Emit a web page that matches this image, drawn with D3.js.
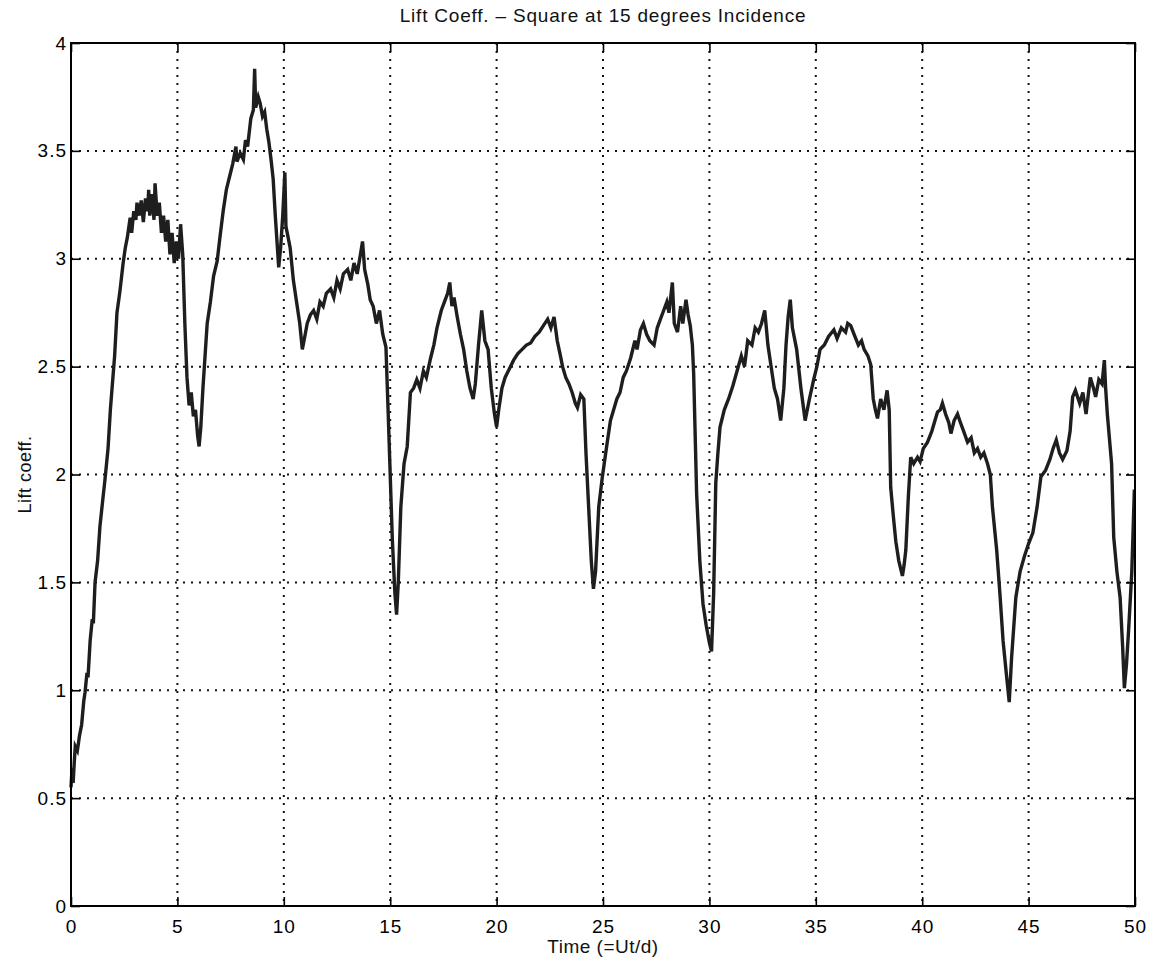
<!DOCTYPE html>
<html>
<head>
<meta charset="utf-8">
<script src="https://cdn.jsdelivr.net/npm/d3@7"></script>
<style>
  body { margin: 0; background: #fff; }
  svg { display: block; font-family: "Liberation Sans", Arial, sans-serif; }
</style>
</head>
<body>
<svg id="chart" width="1159" height="967"></svg>
<script>
// axis ticks
let xTicks = [0, 5, 10, 15, 20, 25, 30, 35, 40, 45, 50];
let yTicks = [0, 0.5, 1, 1.5, 2, 2.5, 3, 3.5, 4];

// time (=Ut/d) samples
let time = [
  0,0.05,0.1,0.15,0.2,0.3,0.4,0.5,0.6,0.66,0.75,0.8,0.9,1.0,1.05,1.13,1.25,1.36,1.49,1.6,
  1.74,1.85,1.93,2.05,2.16,2.3,2.45,2.55,2.65,2.78,2.85,2.95,3.05,3.1,3.2,3.3,3.4,3.5,3.6,3.65,
  3.7,3.8,3.9,3.95,4.05,4.15,4.25,4.35,4.45,4.55,4.65,4.75,4.85,4.95,5.05,5.15,5.25,5.35,5.45,5.55,
  5.65,5.75,5.85,5.95,6.02,6.1,6.2,6.3,6.4,6.55,6.7,6.87,7.0,7.15,7.3,7.45,7.6,7.75,7.8,7.95,
  8.1,8.2,8.3,8.45,8.57,8.63,8.68,8.8,8.89,9.0,9.1,9.2,9.3,9.4,9.5,9.6,9.7,9.76,9.85,9.95,
  10.05,10.1,10.2,10.3,10.45,10.6,10.75,10.87,10.95,11.1,11.25,11.4,11.55,11.7,11.85,12.0,12.2,12.35,12.5,12.65,
  12.8,13.0,13.15,13.3,13.45,13.6,13.7,13.8,13.95,14.06,14.2,14.35,14.5,14.65,14.8,14.9,15.0,15.1,15.22,15.3,
  15.38,15.5,15.65,15.8,15.95,16.1,16.25,16.4,16.56,16.7,16.9,17.05,17.2,17.4,17.55,17.7,17.8,17.9,18.0,18.15,
  18.3,18.45,18.6,18.75,18.9,19.0,19.15,19.3,19.45,19.6,19.75,19.9,20.0,20.1,20.25,20.4,20.55,20.8,21.0,21.2,
  21.4,21.6,21.8,22.0,22.2,22.4,22.55,22.7,22.85,23.0,23.1,23.25,23.4,23.55,23.7,23.8,23.95,24.1,24.2,24.3,
  24.45,24.55,24.65,24.8,24.97,25.1,25.2,25.35,25.5,25.65,25.8,25.95,26.1,26.3,26.5,26.6,26.76,26.9,27.05,27.2,
  27.4,27.55,27.7,27.85,28.0,28.1,28.26,28.35,28.5,28.65,28.75,28.9,29.0,29.1,29.2,29.26,29.4,29.55,29.7,29.85,
  30.0,30.1,30.2,30.3,30.4,30.5,30.7,30.9,31.1,31.3,31.5,31.65,31.8,32.0,32.15,32.3,32.45,32.6,32.75,32.9,
  33.05,33.2,33.35,33.5,33.6,33.7,33.8,33.9,34.1,34.3,34.5,34.7,34.9,35.05,35.2,35.4,35.6,35.85,36.0,36.2,
  36.4,36.5,36.64,36.8,37.0,37.15,37.27,37.45,37.58,37.7,37.8,37.9,38.05,38.2,38.35,38.45,38.52,38.65,38.76,38.9,
  39.07,39.15,39.23,39.35,39.46,39.6,39.78,39.9,40.05,40.25,40.45,40.6,40.72,40.85,40.95,41.1,41.25,41.35,41.5,41.66,
  41.8,41.95,42.13,42.3,42.45,42.6,42.75,42.9,43.07,43.2,43.3,43.5,43.65,43.8,43.95,44.09,44.2,44.4,44.6,44.8,
  45.0,45.2,45.4,45.58,45.8,46.0,46.15,46.3,46.45,46.6,46.8,46.95,47.07,47.2,47.4,47.55,47.7,47.9,48.05,48.15,
  48.3,48.45,48.56,48.62,48.7,48.9,49.0,49.15,49.3,49.42,49.5,49.6,49.7,49.85,49.97
];

// lift coefficient at each sample
let lift = [
  0.55,0.64,0.57,0.66,0.74,0.72,0.79,0.84,0.95,0.99,1.08,1.06,1.23,1.33,1.31,1.5,1.6,1.76,1.88,1.98,
  2.12,2.3,2.4,2.55,2.75,2.85,2.98,3.05,3.1,3.19,3.12,3.22,3.18,3.26,3.2,3.27,3.17,3.28,3.22,3.32,
  3.2,3.3,3.18,3.35,3.2,3.26,3.12,3.2,3.08,3.18,3.02,3.12,2.98,3.08,3.0,3.16,3.02,2.7,2.45,2.32,
  2.38,2.27,2.3,2.18,2.13,2.22,2.4,2.55,2.7,2.8,2.92,2.99,3.1,3.22,3.32,3.38,3.44,3.52,3.45,3.49,
  3.46,3.55,3.52,3.65,3.69,3.88,3.7,3.75,3.72,3.66,3.68,3.6,3.54,3.46,3.37,3.2,3.05,2.96,3.05,3.2,
  3.4,3.15,3.1,3.05,2.9,2.8,2.7,2.58,2.62,2.7,2.74,2.76,2.72,2.8,2.78,2.84,2.86,2.82,2.9,2.86,
  2.93,2.95,2.9,2.98,2.93,3.02,3.08,2.95,2.88,2.81,2.78,2.7,2.76,2.65,2.59,2.3,2.0,1.7,1.45,1.35,
  1.5,1.85,2.05,2.13,2.38,2.4,2.44,2.4,2.48,2.45,2.54,2.6,2.68,2.76,2.8,2.84,2.89,2.78,2.82,2.73,
  2.65,2.58,2.48,2.4,2.35,2.42,2.6,2.76,2.62,2.58,2.4,2.28,2.22,2.3,2.4,2.45,2.48,2.53,2.56,2.58,
  2.6,2.61,2.64,2.66,2.69,2.72,2.68,2.73,2.62,2.55,2.5,2.45,2.42,2.38,2.33,2.31,2.37,2.35,2.1,1.9,
  1.6,1.47,1.55,1.85,1.99,2.08,2.15,2.25,2.3,2.35,2.38,2.45,2.48,2.54,2.62,2.58,2.67,2.7,2.65,2.62,
  2.6,2.68,2.72,2.76,2.8,2.75,2.89,2.7,2.66,2.78,2.7,2.81,2.74,2.69,2.6,2.47,1.91,1.6,1.4,1.3,
  1.22,1.18,1.45,1.96,2.1,2.22,2.3,2.35,2.41,2.48,2.55,2.5,2.62,2.6,2.68,2.66,2.7,2.76,2.6,2.5,
  2.4,2.35,2.25,2.4,2.6,2.73,2.81,2.68,2.58,2.4,2.25,2.35,2.44,2.5,2.58,2.6,2.64,2.67,2.63,2.68,
  2.66,2.7,2.69,2.65,2.6,2.62,2.58,2.55,2.51,2.35,2.3,2.26,2.35,2.3,2.39,2.3,1.94,1.8,1.69,1.6,
  1.53,1.58,1.65,1.9,2.08,2.05,2.08,2.06,2.12,2.15,2.2,2.25,2.29,2.3,2.33,2.28,2.24,2.19,2.25,2.28,
  2.24,2.2,2.15,2.17,2.1,2.12,2.08,2.1,2.05,2.0,1.85,1.65,1.45,1.23,1.08,0.945,1.15,1.43,1.55,1.62,
  1.68,1.73,1.85,1.99,2.02,2.07,2.12,2.16,2.1,2.07,2.11,2.2,2.36,2.39,2.33,2.38,2.28,2.45,2.4,2.36,
  2.44,2.42,2.53,2.4,2.28,2.05,1.71,1.55,1.43,1.2,1.01,1.12,1.28,1.55,1.93
];

let width = 1159;
let height = 967;
let margin = {top: 43, right: 24, bottom: 61, left: 71};
let plotW = width - margin.left - margin.right;
let plotH = height - margin.top - margin.bottom;
let tickLen = 9;

let svg = d3.select("#chart");

let x = d3.scaleLinear().domain([0, 50]).range([margin.left, margin.left + plotW]);
let y = d3.scaleLinear().domain([0, 4]).range([margin.top + plotH, margin.top]);

// dotted grid
svg.selectAll(".vgrid")
  .data(xTicks.slice(1, -1))
  .enter()
  .append("line")
    .attr("x1", d => x(d))
    .attr("x2", d => x(d))
    .attr("y1", margin.top)
    .attr("y2", margin.top + plotH)
    .style("stroke", "#111")
    .style("stroke-width", "2px")
    .style("stroke-dasharray", "2,6");

svg.selectAll(".hgrid")
  .data(yTicks.slice(1, -1))
  .enter()
  .append("line")
    .attr("x1", margin.left)
    .attr("x2", margin.left + plotW)
    .attr("y1", d => y(d))
    .attr("y2", d => y(d))
    .style("stroke", "#111")
    .style("stroke-width", "2px")
    .style("stroke-dasharray", "2,6");

// lift trace
let points = time.map((t, i) => [t, lift[i]]);
let line = d3.line()
  .x(d => x(d[0]))
  .y(d => y(d[1]));

svg.append("path")
  .datum(points)
  .attr("d", line)
  .style("fill", "none")
  .style("stroke", "#1e1e1e")
  .style("stroke-width", "3.4px")
  .style("stroke-linejoin", "miter");

// axes with inward ticks on all four sides
let axisFont = function(g) {
  g.select(".domain").remove();
  g.selectAll(".tick line").style("stroke", "#000").style("stroke-width", "1.6px");
  g.selectAll(".tick text")
    .style("font-size", "19px")
    .style("letter-spacing", "1px")
    .style("fill", "#000");
};

svg.append("g")
  .attr("transform", "translate(0," + (margin.top + plotH) + ")")
  .call(d3.axisBottom(x).tickValues(xTicks).tickFormat(d3.format("d")).tickSizeInner(-tickLen).tickPadding(14))
  .call(axisFont);

svg.append("g")
  .attr("transform", "translate(0," + margin.top + ")")
  .call(d3.axisTop(x).tickValues(xTicks).tickFormat("").tickSizeInner(-tickLen))
  .call(axisFont);

svg.append("g")
  .attr("transform", "translate(" + margin.left + ",0)")
  .call(d3.axisLeft(y).tickValues(yTicks).tickFormat(d => d).tickSizeInner(-tickLen).tickPadding(4))
  .call(axisFont);

svg.append("g")
  .attr("transform", "translate(" + (margin.left + plotW) + ",0)")
  .call(d3.axisRight(y).tickValues(yTicks).tickFormat("").tickSizeInner(-tickLen))
  .call(axisFont);

// frame
svg.append("rect")
  .attr("x", margin.left)
  .attr("y", margin.top)
  .attr("width", plotW)
  .attr("height", plotH)
  .style("fill", "none")
  .style("stroke", "#000")
  .style("stroke-width", "2px");

// title and axis labels
svg.append("text")
  .attr("x", margin.left + plotW / 2)
  .attr("y", 22)
  .text("Lift Coeff. – Square at 15 degrees Incidence")
  .style("text-anchor", "middle")
  .style("font-size", "19px")
  .style("letter-spacing", "0.8px")
  .style("fill", "#111");

svg.append("text")
  .attr("x", margin.left + plotW / 2)
  .attr("y", 953)
  .text("Time (=Ut/d)")
  .style("text-anchor", "middle")
  .style("font-size", "19px")
  .style("letter-spacing", "0.5px")
  .style("fill", "#111");

svg.append("text")
  .attr("transform", "translate(31," + (margin.top + plotH / 2) + ") rotate(-90)")
  .text("Lift coeff.")
  .style("text-anchor", "middle")
  .style("font-size", "18px")
  .style("letter-spacing", "0.5px")
  .style("fill", "#111");
</script>
</body>
</html>
